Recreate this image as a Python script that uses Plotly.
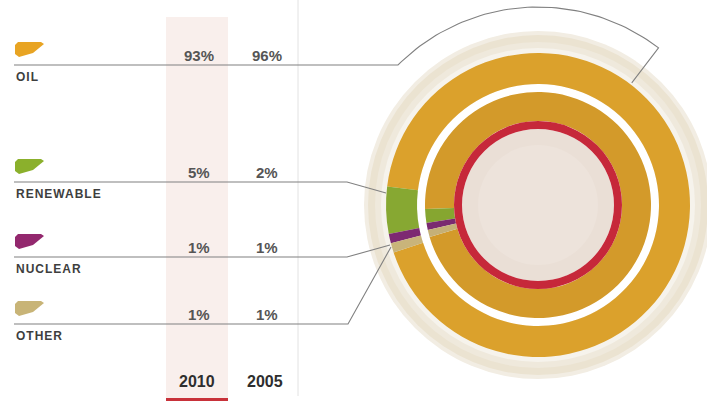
import numpy as np
import plotly.graph_objects as go

# ---------------- data ----------------
categories = ["OIL", "RENEWABLE", "NUCLEAR", "OTHER"]
share_2010 = [93, 5, 1, 1]
share_2005 = [96, 2, 1, 1]
years = ["2010", "2005"]
colors_2010 = ["#dba12c", "#87a832", "#7d2a72", "#c9b47a"]
colors_2005 = ["#d39a2a", "#86a630", "#7a2a70", "#c5b077"]
icon_colors = ["#e8a423", "#8bb02c", "#93286e", "#c8b477"]

W, H = 707, 401
CX, CY = 538, 205          # centre of the rings (pixels)

fig = go.Figure()

def dom(r):
    return dict(x=[(CX - r) / W, (CX + r) / W], y=[1 - (CY + r) / H, 1 - (CY - r) / H])

# outer ring 2010
fig.add_trace(go.Pie(labels=categories, values=share_2010, sort=False, direction="counterclockwise",
                     rotation=-83, hole=121 / 152, domain=dom(152), textinfo="none",
                     marker=dict(colors=colors_2010, line=dict(width=0)), hoverinfo="label+percent",
                     showlegend=False))
# inner ring 2005
fig.add_trace(go.Pie(labels=categories, values=share_2005, sort=False, direction="counterclockwise",
                     rotation=-92, hole=84 / 113, domain=dom(113), textinfo="none",
                     marker=dict(colors=colors_2005, line=dict(width=0)), hoverinfo="label+percent",
                     showlegend=False))
# red ring
fig.add_trace(go.Pie(labels=[""], values=[1], hole=76 / 84, domain=dom(84), textinfo="none",
                     marker=dict(colors=["#c6283a"], line=dict(width=0)), hoverinfo="skip",
                     showlegend=False))

line_col = "#808080"
row_y = [65, 182, 257, 324]

# leader lines
t = np.radians(np.linspace(135, 52.5, 60))
R_arc = 198
ax = list(CX + R_arc * np.cos(t))
ay = list(CY - R_arc * np.sin(t))
end = np.radians(52.5)
oil_x = [14] + ax + [CX + 154 * np.cos(end)]
oil_y = [65] + ay + [CY - 154 * np.sin(end)]
leaders = [
    (oil_x, oil_y),
    ([14, 347, 386], [182, 182, 193]),
    ([14, 347, 390], [257, 257, 245]),
    ([14, 348, 391], [324, 324, 247]),
]
for lx, ly in leaders:
    fig.add_trace(go.Scatter(x=lx, y=ly, mode="lines", line=dict(color=line_col, width=1.1),
                             hoverinfo="skip", showlegend=False))

shapes = []
# column band and separators
shapes.append(dict(type="rect", x0=166, x1=228, y0=17, y1=398, fillcolor="#f9efec",
                   line=dict(width=0), layer="below"))
shapes.append(dict(type="line", x0=166, x1=228, y0=399.5, y1=399.5, line=dict(color="#c8323a", width=3),
                   layer="below"))
shapes.append(dict(type="line", x0=298, x1=298, y0=0, y1=396, line=dict(color="#e2e2e2", width=1),
                   layer="below"))

def circ(r, col, layer="below"):
    return dict(type="circle", x0=CX - r, x1=CX + r, y0=CY - r, y1=CY + r, fillcolor=col,
                line=dict(width=0), layer=layer)

shapes += [circ(174, "#f2ede3"), circ(170, "#ebe3d1"), circ(163, "#efe9dc"), circ(157, "#f6f3ec"),
           circ(121, "#ffffff"), circ(76, "#eadfd6"), circ(60, "#ede3db")]

# legend icons
def icon(x0, y0, col):
    pts = [(0, 3), (3, 0), (26, 0), (29, 2), (18, 11), (4, 15), (0, 12)]
    p = "M " + " L ".join(f"{x0 + a},{y0 + b}" for a, b in pts) + " Z"
    return dict(type="path", path=p, fillcolor=col, line=dict(width=0), layer="below")

for i, c in enumerate(icon_colors):
    shapes.append(icon(15, row_y[i] - 23, c))

anns = []
for i, cat in enumerate(categories):
    anns.append(dict(x=14, y=row_y[i] + 12, text=f"<span style='letter-spacing:1px'>{cat}</span>",
                     showarrow=False, xanchor="left", yanchor="middle",
                     font=dict(family="Liberation Sans", size=12, color="#3e3e3e", weight="bold")))
    anns.append(dict(x=199, y=row_y[i] - 10, text=f"{share_2010[i]}%", showarrow=False,
                     xanchor="center", yanchor="middle",
                     font=dict(family="Liberation Sans", size=15, color="#555555", weight="bold")))
    anns.append(dict(x=267, y=row_y[i] - 10, text=f"{share_2005[i]}%", showarrow=False,
                     xanchor="center", yanchor="middle",
                     font=dict(family="Liberation Sans", size=15, color="#555555", weight="bold")))
for xk, yr in zip([197, 265], years):
    anns.append(dict(x=xk, y=381, text=yr, showarrow=False, xanchor="center", yanchor="middle",
                     font=dict(family="Liberation Sans", size=16, color="#2e2e2e", weight="bold")))

fig.update_layout(
    width=W, height=H, margin=dict(l=0, r=0, t=0, b=0),
    paper_bgcolor="white", plot_bgcolor="white",
    xaxis=dict(range=[0, W], visible=False, fixedrange=True),
    yaxis=dict(range=[H, 0], visible=False, fixedrange=True),
    shapes=shapes, annotations=anns, showlegend=False,
)
fig.write_html("out.html", config={"displayModeBar": False},
               post_script="document.body.style.margin='0px';document.body.style.overflow='hidden';")
